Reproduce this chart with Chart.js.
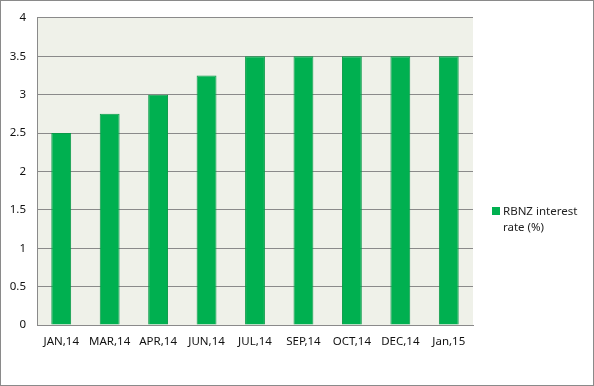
<!DOCTYPE html>
<html><head><meta charset="utf-8">
<script src="https://cdn.jsdelivr.net/npm/chart.js@4/dist/chart.umd.min.js"></script>
<style>html,body{margin:0;padding:0;background:#fff}#w{width:594px;height:386px;position:relative}</style>
</head><body><div id="w"><canvas id="c" width="594" height="386"></canvas></div>
<script>
const categories = ["JAN,14","MAR,14","APR,14","JUN,14","JUL,14","SEP,14","OCT,14","DEC,14","Jan,15"];
const rates = [2.5, 2.75, 3, 3.25, 3.5, 3.5, 3.5, 3.5, 3.5];
const seriesLabel = "RBNZ interest rate (%)";
const legendLines = ["RBNZ interest", "rate (%)"];
const yTicks = [0, 0.5, 1, 1.5, 2, 2.5, 3, 3.5, 4];

const FONT = "'Noto Sans', 'Open Sans', sans-serif";

const decor = {
  id: 'decor',
  beforeDraw(chart) {
    const {ctx, chartArea: a} = chart;
    ctx.save();
    ctx.fillStyle = '#fff';
    ctx.fillRect(0, 0, chart.width, chart.height);
    ctx.fillStyle = '#EFF1E9';
    ctx.fillRect(a.left, a.top, a.right - a.left, a.bottom - a.top);
    ctx.restore();
  },
  afterDraw(chart) {
    const ctx = chart.ctx;
    ctx.save();
    ctx.strokeStyle = '#8a8a8a';
    ctx.lineWidth = 1;
    ctx.strokeRect(0.5, 0.5, chart.width - 1, chart.height - 1);
    const x = 492, y = 207;
    ctx.fillStyle = '#00B050';
    ctx.fillRect(x, y, 8, 8);
    ctx.fillStyle = '#222';
    ctx.font = "11.5px " + FONT;
    ctx.textBaseline = 'alphabetic';
    ctx.fillText(legendLines[0], x + 11, y + 8);
    ctx.fillText(legendLines[1], x + 11, y + 24);
    ctx.restore();
  }
};

new Chart(document.getElementById('c'), {
  type: 'bar',
  data: {
    labels: categories,
    datasets: [{
      label: seriesLabel,
      data: rates,
      backgroundColor: '#00B050',
      borderColor: '#0a9a48',
      borderWidth: 1,
      barPercentage: 0.41,
      categoryPercentage: 1
    }]
  },
  options: {
    responsive: false,
    animation: false,
    devicePixelRatio: 1,
    layout: { padding: { left: 0, right: 121, top: 15, bottom: 0 } },
    plugins: { legend: { display: false }, tooltip: { enabled: false } },
    scales: {
      x: {
        grid: { display: false, drawTicks: false },
        border: { display: true, color: '#8a8a8a' },
        ticks: { color: '#111', font: { family: FONT, size: 11.5 }, maxRotation: 0, autoSkip: false, padding: 10 },
        afterFit(s) { s.height = 61; }
      },
      y: {
        min: 0, max: 4,
        afterBuildTicks(s) { s.ticks = yTicks.map(v => ({ value: v })); },
        grid: { color: '#8a8a8a', drawTicks: false, lineWidth: 1 },
        border: { display: true, color: '#8a8a8a' },
        ticks: { color: '#111', font: { family: FONT, size: 11.5 }, padding: 11, callback: v => String(v) },
        afterFit(s) { s.width = 37; }
      }
    }
  },
  plugins: [decor]
});
</script></body></html>
